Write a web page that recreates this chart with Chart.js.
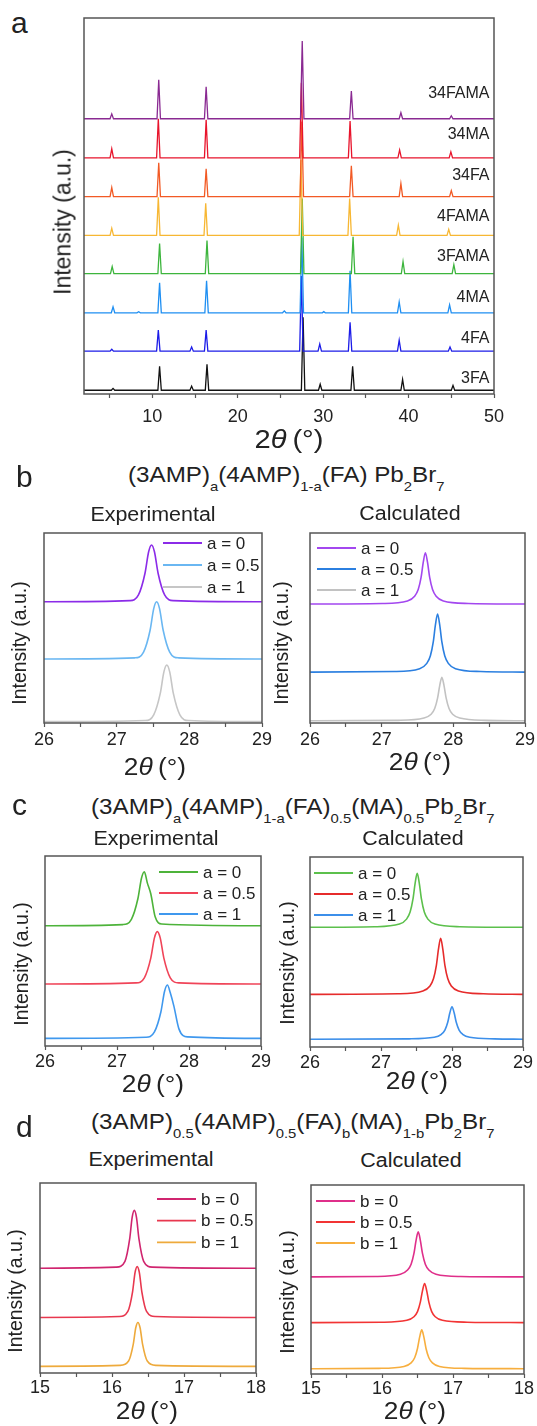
<!DOCTYPE html>
<html lang="en">
<head>
<meta charset="UTF-8">
<title>XRD patterns</title>
<script src="https://cdn.jsdelivr.net/npm/chart.js"></script>
<style>
  body { margin: 0; width: 537px; height: 1426px; position: relative; background: #fff; overflow: hidden;
         font-family: 'Liberation Sans', Arial, sans-serif; color: #222; }
  canvas { position: absolute; }
  .t { position: absolute; line-height: 1; white-space: nowrap; z-index: 2; }
  .pl { font-size: 30px; }
  .ttl { font-size: 22px; transform-origin: 0 0; transform: scaleX(1.1); }
  .ttl .s { font-size: 13.5px; vertical-align: -9px; line-height: 0; }
  .sub2 { font-size: 19.5px; transform: translateX(-50%) scaleX(1.1); }
  .xt { font-size: 23.5px; transform: translateX(-50%) scaleX(1.12); }
  .xtA { font-size: 26px; }
  .yt { font-size: 19.5px; transform: translate(-50%, -50%) rotate(-90deg); }
  .ytA { font-size: 23px; }
</style>
</head>
<body>
<canvas id="chartA"></canvas>
<canvas id="chartBL"></canvas>
<canvas id="chartBR"></canvas>
<canvas id="chartCL"></canvas>
<canvas id="chartCR"></canvas>
<canvas id="chartDL"></canvas>
<canvas id="chartDR"></canvas>

<!-- panel letters -->
<div class="t pl" style="left:11px;top:7.6px">a</div>
<div class="t pl" style="left:16px;top:461.6px">b</div>
<div class="t pl" style="left:12px;top:789.6px">c</div>
<div class="t pl" style="left:16px;top:1111.6px">d</div>

<!-- panel titles -->
<div class="t ttl" style="left:128px;top:464.4px">(3AMP)<span class="s">a</span>(4AMP)<span class="s">1-a</span>(FA) Pb<span class="s">2</span>Br<span class="s">7</span></div>
<div class="t ttl" style="left:91px;top:796.4px">(3AMP)<span class="s">a</span>(4AMP)<span class="s">1-a</span>(FA)<span class="s">0.5</span>(MA)<span class="s">0.5</span>Pb<span class="s">2</span>Br<span class="s">7</span></div>
<div class="t ttl" style="left:91px;top:1111.4px">(3AMP)<span class="s">0.5</span>(4AMP)<span class="s">0.5</span>(FA)<span class="s">b</span>(MA)<span class="s">1-b</span>Pb<span class="s">2</span>Br<span class="s">7</span></div>

<div class="t sub2" style="left:153px;top:504.5px">Experimental</div>
<div class="t sub2" style="left:410px;top:503.5px">Calculated</div>
<div class="t sub2" style="left:156px;top:828.5px">Experimental</div>
<div class="t sub2" style="left:413px;top:828.5px">Calculated</div>
<div class="t sub2" style="left:151px;top:1149.5px">Experimental</div>
<div class="t sub2" style="left:411px;top:1150.5px">Calculated</div>

<!-- axis titles -->
<div class="t xt xtA" style="left:289px;top:426px">2<i>θ</i>&thinsp;(°)</div>
<div class="t xt" style="left:155px;top:756px">2<i>θ</i>&thinsp;(°)</div>
<div class="t xt" style="left:420px;top:751px">2<i>θ</i>&thinsp;(°)</div>
<div class="t xt" style="left:153px;top:1073px">2<i>θ</i>&thinsp;(°)</div>
<div class="t xt" style="left:417px;top:1070px">2<i>θ</i>&thinsp;(°)</div>
<div class="t xt" style="left:147px;top:1400px">2<i>θ</i>&thinsp;(°)</div>
<div class="t xt" style="left:415px;top:1400px">2<i>θ</i>&thinsp;(°)</div>

<div class="t yt ytA" style="left:63px;top:222px">Intensity (a.u.)</div>
<div class="t yt" style="left:20px;top:643px">Intensity (a.u.)</div>
<div class="t yt" style="left:282px;top:643px">Intensity (a.u.)</div>
<div class="t yt" style="left:22px;top:964px">Intensity (a.u.)</div>
<div class="t yt" style="left:288px;top:963px">Intensity (a.u.)</div>
<div class="t yt" style="left:16px;top:1291px">Intensity (a.u.)</div>
<div class="t yt" style="left:288px;top:1292px">Intensity (a.u.)</div>

<script>
// ---- panel a: stacked patterns, 2theta vs offset intensity ----
const aNames = ['34FAMA', '34MA', '34FA', '4FAMA', '3FAMA', '4MA', '4FA', '3FA'];
const aTicks = [5, 10, 15, 20, 25, 30, 35, 40, 45, 50];
const aTickLabels = [10, 20, 30, 40, 50];

const a34FAMA = [[2,73.2],[5.05,73.2],[5.25,74.5],[5.45,73.2],[10.55,73.2],[10.75,83.6],[10.95,73.2],[16.1,73.2],[16.3,81.7],[16.5,73.2],
  [27.35,73.2],[27.55,93.9],[27.75,73.2],[33.1,73.2],[33.3,80.6],[33.5,73.2],[38.9,73.2],[39.1,74.8],[39.3,73.2],[44.8,73.2],[45,74],[45.2,73.2],[50,73.2]];
const a34MA = [[2,62.8],[5.05,62.8],[5.25,65.2],[5.45,62.8],[10.5,62.8],[10.7,73.2],[10.9,62.8],[16.1,62.8],[16.3,72.9],[16.5,62.8],
  [27.25,62.8],[27.45,82.8],[27.65,62.8],[32.95,62.8],[33.15,72.6],[33.35,62.8],[38.75,62.8],[38.95,64.9],[39.15,62.8],[44.75,62.8],[44.95,64.4],[45.15,62.8],[50,62.8]];
const a34FA = [[2,52.5],[5.05,52.5],[5.25,54.9],[5.45,52.5],[10.55,52.5],[10.75,61.5],[10.95,52.5],[16.1,52.5],[16.3,59.9],[16.5,52.5],
  [27.3,52.5],[27.5,72.5],[27.7,52.5],[33.1,52.5],[33.3,60.7],[33.5,52.5],[38.9,52.5],[39.1,56],[39.3,52.5],[44.8,52.5],[45,54.1],[45.2,52.5],[50,52.5]];
const a4FAMA = [[2,42.2],[5.05,42.2],[5.25,44.1],[5.45,42.2],[10.5,42.2],[10.7,52.3],[10.9,42.2],[16.05,42.2],[16.25,50.7],[16.45,42.2],
  [27.2,42.2],[27.4,62.2],[27.6,42.2],[32.9,42.2],[33.1,52],[33.3,42.2],[38.6,42.2],[38.8,44.9],[39,42.2],[44.5,42.2],[44.7,43.8],[44.9,42.2],[50,42.2]];
const a3FAMA = [[2,32],[5.1,32],[5.3,33.9],[5.5,32],[10.65,32],[10.85,40],[11.05,32],[16.2,32],[16.4,40.8],[16.6,32],
  [27.35,32],[27.55,52],[27.75,32],[33.3,32],[33.5,41.8],[33.7,32],[39.15,32],[39.35,35.2],[39.55,32],[45.1,32],[45.3,34.4],[45.5,32],[50,32]];
const a4MA = [[2,21.6],[5.2,21.6],[5.4,23.2],[5.6,21.6],[8.2,21.6],[8.4,21.9],[8.6,21.6],[10.65,21.6],[10.85,29.6],[11.05,21.6],
  [16.15,21.6],[16.35,30.1],[16.55,21.6],[25.25,21.6],[25.45,22.1],[25.65,21.6],[27.3,21.6],[27.5,41.6],[27.7,21.6],[29.9,21.6],[30.07,21.9],[30.25,21.6],
  [32.95,21.6],[33.15,32.8],[33.35,21.6],[38.7,21.6],[38.9,24.5],[39.1,21.6],[44.6,21.6],[44.8,23.7],[45,21.6],[50,21.6]];
const a4FA = [[2,11.4],[5.05,11.4],[5.25,11.9],[5.45,11.4],[10.5,11.4],[10.7,17],[10.9,11.4],[14.4,11.4],[14.6,12.5],[14.8,11.4],
  [16.1,11.4],[16.3,17],[16.5,11.4],[27.25,11.4],[27.45,31.4],[27.65,11.4],[29.4,11.4],[29.6,13.3],[29.8,11.4],[32.95,11.4],[33.15,19.1],[33.35,11.4],
  [38.7,11.4],[38.9,14.3],[39.1,11.4],[44.65,11.4],[44.85,12.5],[45.05,11.4],[50,11.4]];
const a3FA = [[2,1],[5.2,1],[5.4,1.5],[5.6,1],[10.65,1],[10.85,7.4],[11.05,1],[14.4,1],[14.6,2.1],[14.8,1],[16.2,1],[16.4,7.9],[16.6,1],
  [27.45,1],[27.65,20.4],[27.85,1],[29.45,1],[29.65,2.6],[29.85,1],[33.25,1],[33.45,7.4],[33.65,1],[39.1,1],[39.3,3.9],[39.5,1],[45,1],[45.2,2.3],[45.4,1],[50,1]];

// ---- panels b, c: (002)-type peak near 27.5 deg ----
const abLabels = ['a = 0', 'a = 0.5', 'a = 1'];
const bcTicks = [26, 26.5, 27, 27.5, 28, 28.5, 29];
const bcTickLabels = [26, 27, 28, 29];

const bExpA0  = [[26,63.8],[27.18,64.4],[27.3,67.4],[27.39,78.8],[27.44,90.1],[27.48,93.7],[27.52,90.1],[27.57,78.8],[27.66,67.4],[27.78,64.4],[29,63.8]];
const bExpA05 = [[26,33.7],[27.25,34.3],[27.37,37.3],[27.46,48.8],[27.51,60.2],[27.55,63.8],[27.59,60.2],[27.64,48.8],[27.73,37.3],[27.85,34.3],[29,33.7]];
const bExpA1  = [[26,0.7],[27.39,1.3],[27.51,4.3],[27.6,15.6],[27.65,26.9],[27.69,30.5],[27.73,26.9],[27.78,15.6],[27.87,4.3],[27.99,1.3],[29,0.7]];
const bCalcA0  = [[26,62.6],[27.01,62.9],[27.36,64.2],[27.46,66.7],[27.51,70.2],[27.55,76.6],[27.58,84.5],[27.61,89.6],[27.64,84.5],[27.67,76.6],[27.71,70.2],[27.76,66.7],[27.86,64.2],[28.21,62.9],[29,62.6]];
const bCalcA05 = [[26,26.8],[27.18,27.1],[27.53,28.6],[27.63,31.4],[27.68,35.4],[27.72,42.7],[27.75,51.6],[27.78,57.4],[27.81,51.6],[27.84,42.7],[27.88,35.4],[27.93,31.4],[28.03,28.6],[28.38,27.1],[29,26.8]];
const bCalcA1  = [[26,1.2],[27.24,1.4],[27.59,2.6],[27.69,4.6],[27.74,7.6],[27.78,13.1],[27.81,19.7],[27.84,24],[27.87,19.7],[27.9,13.1],[27.94,7.6],[27.99,4.6],[28.09,2.6],[28.44,1.4],[29,1.2]];

const cExpA0  = [[26,63.3],[27.08,63.9],[27.2,66.7],[27.29,77.5],[27.34,88.3],[27.38,91.7],[27.42,86],[27.47,80],[27.53,68],[27.62,64.2],[29,63.3]];
const cExpA05 = [[26,32.6],[27.26,33.2],[27.38,35.9],[27.47,46.4],[27.52,56.9],[27.56,60.2],[27.6,56.9],[27.65,46.4],[27.74,35.9],[27.86,33.2],[29,32.6]];
const cExpA1  = [[26,4],[27.4,4.6],[27.52,7.4],[27.61,18],[27.66,28.7],[27.7,32.1],[27.74,28],[27.79,21],[27.86,9],[27.98,4.8],[29,4]];
const cCalcA0  = [[26,63],[26.91,63.3],[27.26,64.7],[27.36,67.3],[27.41,71],[27.45,77.8],[27.48,86],[27.51,91.4],[27.54,86],[27.57,77.8],[27.61,71],[27.66,67.3],[27.76,64.7],[28.11,63.3],[29,63]];
const cCalcA05 = [[26,27.7],[27.24,28],[27.59,29.5],[27.69,32.1],[27.74,36],[27.78,43],[27.81,51.6],[27.84,57.2],[27.87,51.6],[27.9,43],[27.94,36],[27.99,32.1],[28.09,29.5],[28.44,28],[29,27.7]];
const cCalcA1  = [[26,4.1],[27.4,4.3],[27.75,5.1],[27.85,6.7],[27.9,8.9],[27.94,13],[27.97,18],[28,21.2],[28.03,18],[28.06,13],[28.1,8.9],[28.15,6.7],[28.25,5.1],[28.6,4.3],[29,4.1]];

// ---- panel d: peak near 16.4 deg ----
const dLabels = ['b = 0', 'b = 0.5', 'b = 1'];
const dTicks = [15, 15.5, 16, 16.5, 17, 17.5, 18];
const dTickLabels = [15, 16, 17, 18];

const dExpB0  = [[15,55.1],[16.06,55.7],[16.18,58.8],[16.245,70.4],[16.28,81.9],[16.31,85.6],[16.34,81.9],[16.375,70.4],[16.44,58.8],[16.56,55.7],[18,55.1]];
const dExpB05 = [[15,29.2],[16.1,29.7],[16.22,32.4],[16.285,42.6],[16.32,52.8],[16.35,56],[16.38,52.8],[16.415,42.6],[16.48,32.4],[16.6,29.7],[18,29.2]];
const dExpB1  = [[15,3.5],[16.11,4],[16.23,6.3],[16.295,15.1],[16.33,23.8],[16.36,26.6],[16.39,23.8],[16.425,15.1],[16.49,6.3],[16.61,4],[18,3.5]];
const dCalcB0  = [[15,51.4],[15.91,51.6],[16.26,52.8],[16.36,55],[16.41,58.1],[16.45,63.8],[16.48,70.7],[16.51,75.2],[16.54,70.7],[16.57,63.8],[16.61,58.1],[16.66,55],[16.76,52.8],[17.11,51.6],[18,51.4]];
const dCalcB05 = [[15,27.2],[16,27.4],[16.35,28.4],[16.45,30.3],[16.5,33],[16.54,38],[16.57,44],[16.6,47.9],[16.63,44],[16.66,38],[16.7,33],[16.75,30.3],[16.85,28.4],[17.2,27.4],[18,27.2]];
const dCalcB1  = [[15,2.8],[15.96,3],[16.31,4],[16.41,5.9],[16.46,8.6],[16.5,13.5],[16.53,19.5],[16.56,23.4],[16.59,19.5],[16.62,13.5],[16.66,8.6],[16.71,5.9],[16.81,4],[17.16,3],[18,2.8]];

// ---------------------------------------------------------------
const FONT = "'Liberation Sans', Arial, sans-serif";
Chart.defaults.font.family = FONT;
Chart.defaults.color = '#222';

// box frame around the plot area
const frame = {
  id: 'frame',
  afterDatasetsDraw(chart) {
    const { ctx, chartArea: a } = chart;
    ctx.save();
    ctx.strokeStyle = '#555';
    ctx.lineWidth = 1.5;
    ctx.strokeRect(a.left, a.top, a.right - a.left, a.bottom - a.top);
    ctx.restore();
  }
};

// legend drawn inside the plot
const inLegend = {
  id: 'inLegend',
  afterDatasetsDraw(chart, args, o) {
    if (!o || o.x === undefined) return;
    const { ctx, chartArea } = chart;
    ctx.save();
    ctx.font = '17px ' + FONT;
    ctx.textBaseline = 'middle';
    ctx.fillStyle = '#222';
    chart.data.datasets.forEach((ds, i) => {
      const x = chartArea.left + o.x;
      const y = chartArea.top + o.y + i * o.row;
      ctx.strokeStyle = ds.borderColor;
      ctx.lineWidth = 1.8;
      ctx.beginPath();
      ctx.moveTo(x, y);
      ctx.lineTo(x + 39, y);
      ctx.stroke();
      ctx.fillText(ds.label, x + 44, y + 1);
    });
    ctx.restore();
  }
};

// sample names at the right of panel a
const traceLabels = {
  id: 'traceLabels',
  afterDatasetsDraw(chart, args, o) {
    if (!o || o.top === undefined) return;
    const { ctx, chartArea } = chart;
    ctx.save();
    ctx.font = '16px ' + FONT;
    ctx.textBaseline = 'middle';
    ctx.textAlign = 'right';
    ctx.fillStyle = '#222';
    chart.data.datasets.forEach((ds, i) => {
      ctx.fillText(ds.label, chartArea.right - 4.5, chartArea.top + o.top + i * o.step);
    });
    ctx.restore();
  }
};

function makeChart(id, box, sets, xr, ticks, tickLabels, tickPad, opts) {
  const pad = 25, padT = 10, hx = 40;
  const cv = document.getElementById(id);
  cv.width = box.r - box.l + 2 * pad;
  cv.height = box.b - box.t + padT + hx;
  cv.style.left = (box.l - pad) + 'px';
  cv.style.top = (box.t - padT) + 'px';
  return new Chart(cv, {
    type: 'line',
    data: {
      datasets: sets.map(s => ({
        label: s.label,
        data: s.data,
        borderColor: s.color,
        borderWidth: s.width || 1.6,
        pointRadius: 0,
        fill: false,
        tension: 0,
        cubicInterpolationMode: s.smooth ? 'monotone' : 'default'
      }))
    },
    options: {
      responsive: false,
      animation: false,
      devicePixelRatio: 1,
      layout: { padding: { left: pad, right: pad, top: padT, bottom: 0 } },
      plugins: {
        legend: { display: false },
        tooltip: { enabled: false },
        inLegend: opts.legend || {},
        traceLabels: opts.labels || {}
      },
      scales: {
        x: {
          type: 'linear', min: xr[0], max: xr[1],
          afterFit: s => { s.height = hx; },
          afterBuildTicks: s => { s.ticks = ticks.map(v => ({ value: v })); },
          ticks: {
            font: { size: 18 }, color: '#222', padding: tickPad, autoSkip: false, maxRotation: 0,
            callback: v => tickLabels.includes(v) ? String(v) : ''
          },
          grid: { drawOnChartArea: false, drawTicks: true, tickLength: 4, tickColor: '#555', tickWidth: 1.2 },
          border: { display: false }
        },
        y: { display: false, min: 0, max: 100 }
      }
    },
    plugins: [frame, inLegend, traceLabels]
  });
}

// panel a
const aSeries = [a34FAMA, a34MA, a34FA, a4FAMA, a3FAMA, a4MA, a4FA, a3FA];
const aColors = ['#8a2a92', '#e8142c', '#f25a25', '#f7b733', '#3db53d', '#1f8ff2', '#1c1ce8', '#111111'];
makeChart('chartA', { l: 84, t: 18, r: 494, b: 394 },
  aSeries.map((d, i) => ({ label: aNames[i], data: d, color: aColors[i], width: 1.3 })),
  [2, 50], aTicks, aTickLabels, 8.5, { labels: { top: 76, step: 40.7 } });

// panel b
const bExpColors = ['#8b2be8', '#6ab7f2', '#c6c6c6'];
const bCalcColors = ['#a347ef', '#2b7fe0', '#c2c2c2'];
makeChart('chartBL', { l: 44, t: 533, r: 262, b: 723 },
  [bExpA0, bExpA05, bExpA1].map((d, i) => ({ label: abLabels[i], data: d, color: bExpColors[i], smooth: true })),
  [26, 29], bcTicks, bcTickLabels, 2, { legend: { x: 119, y: 10, row: 22 } });
makeChart('chartBR', { l: 310, t: 533, r: 525, b: 723 },
  [bCalcA0, bCalcA05, bCalcA1].map((d, i) => ({ label: abLabels[i], data: d, color: bCalcColors[i], smooth: true })),
  [26, 29], bcTicks, bcTickLabels, 2, { legend: { x: 7, y: 15, row: 21 } });

// panel c
const cExpColors = ['#4db33a', '#f04458', '#3f98ee'];
const cCalcColors = ['#5cc04c', '#e62b2b', '#3c8fea'];
makeChart('chartCL', { l: 45, t: 856, r: 261, b: 1046 },
  [cExpA0, cExpA05, cExpA1].map((d, i) => ({ label: abLabels[i], data: d, color: cExpColors[i], smooth: true })),
  [26, 29], bcTicks, bcTickLabels, 1, { legend: { x: 114, y: 16, row: 21 } });
makeChart('chartCR', { l: 310, t: 857, r: 523, b: 1047 },
  [cCalcA0, cCalcA05, cCalcA1].map((d, i) => ({ label: abLabels[i], data: d, color: cCalcColors[i], smooth: true })),
  [26, 29], bcTicks, bcTickLabels, 1, { legend: { x: 4, y: 16, row: 21 } });

// panel d
const dExpColors = ['#d0256f', '#e8384f', '#eeaa3c'];
const dCalcColors = ['#df2f8a', '#f23434', '#f7ae3e'];
makeChart('chartDL', { l: 40, t: 1183, r: 256, b: 1373 },
  [dExpB0, dExpB05, dExpB1].map((d, i) => ({ label: dLabels[i], data: d, color: dExpColors[i], smooth: true })),
  [15, 18], dTicks, dTickLabels, 0, { legend: { x: 117, y: 16, row: 21.7 } });
makeChart('chartDR', { l: 311, t: 1185, r: 524, b: 1374 },
  [dCalcB0, dCalcB05, dCalcB1].map((d, i) => ({ label: dLabels[i], data: d, color: dCalcColors[i], smooth: true })),
  [15, 18], dTicks, dTickLabels, 0, { legend: { x: 5, y: 16, row: 21 } });
</script>
</body>
</html>
